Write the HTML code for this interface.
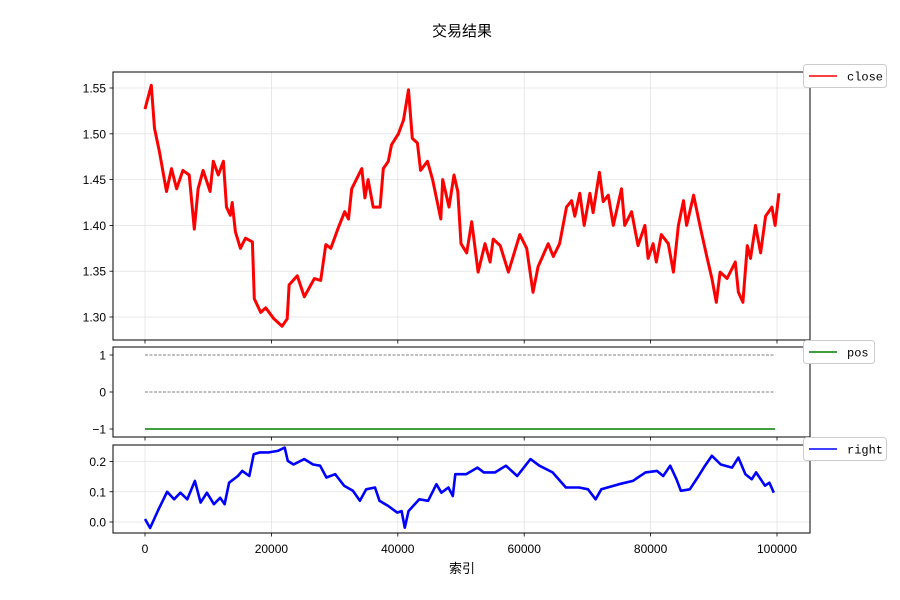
<!DOCTYPE html>
<html><head><meta charset="utf-8"><style>
body{margin:0;background:#fff}
svg{display:block;font-family:"Liberation Sans","Noto Sans CJK SC",sans-serif}
</style></head><body>
<svg id="fig" width="900" height="600" viewBox="0 0 900 600">
<rect width="900" height="600" fill="#fff"/>
<text x="462" y="36" font-size="15" text-anchor="middle">交易结果</text>
<text x="462" y="573" font-size="13" text-anchor="middle">索引</text>
</svg>
<script>
// x positions in thousands of index
const closeIdx=[0,1,1.5,2.3,3.4,4.2,5,6,7,7.8,8.4,9.2,10.3,10.8,11.6,12.4,12.9,13.5,13.8,14.3,15.1,15.9,17,17.3,18.3,19.1,20.4,21.7,22.5,22.8,24.1,25.2,26.8,27.8,28.6,29.4,30.5,31.6,32.2,32.7,34.3,34.8,35.3,36.1,37.2,37.7,38.5,39,40.1,40.9,41.7,42.3,43.1,43.6,44.7,45.5,46.8,47.1,48.1,48.9,49.5,50,50.9,51.7,52.7,53.8,54.6,55.1,56.2,57.5,59.3,60.4,61.4,62.2,63.8,64.6,65.6,66.7,67.5,68,68.8,69.5,70.4,70.9,71.9,72.5,73.3,74.1,75.4,75.9,77,78,79.1,79.6,80.4,80.9,81.7,82.8,83.6,84.4,85.2,85.7,86.8,87.8,88.9,89.7,90.4,91,92.1,93.4,93.9,94.6,95.3,95.8,96.6,97.4,98.2,99.2,99.7,100.3];
const closeVals=[1.527,1.553,1.506,1.48,1.437,1.462,1.44,1.46,1.455,1.396,1.44,1.46,1.437,1.47,1.455,1.47,1.42,1.411,1.425,1.393,1.375,1.386,1.382,1.32,1.305,1.31,1.298,1.29,1.298,1.335,1.345,1.322,1.342,1.34,1.379,1.375,1.396,1.415,1.407,1.44,1.462,1.43,1.45,1.42,1.42,1.462,1.47,1.488,1.50,1.515,1.548,1.495,1.49,1.46,1.47,1.45,1.407,1.45,1.42,1.455,1.437,1.38,1.37,1.404,1.349,1.38,1.36,1.385,1.378,1.349,1.39,1.375,1.327,1.355,1.38,1.366,1.38,1.42,1.427,1.41,1.435,1.40,1.435,1.414,1.458,1.426,1.433,1.40,1.44,1.40,1.415,1.378,1.40,1.364,1.38,1.36,1.39,1.38,1.349,1.40,1.427,1.40,1.433,1.40,1.366,1.342,1.316,1.349,1.342,1.36,1.327,1.316,1.378,1.364,1.40,1.37,1.41,1.42,1.40,1.435];
const posIdx=[0,99.7];
const posVals=[-1,-1];
const rightIdx=[0,0.8,2.1,3.5,4.6,5.6,6.7,7.9,8.8,9.8,10.9,11.9,12.6,13.3,14.7,15.4,16.5,17.2,18.2,19.6,21,22.1,22.6,23.5,25.2,26.6,27.7,28.7,30.1,31.5,32.9,34,35,36.4,37.1,38.5,39.9,40.6,41.1,41.7,43.4,44.8,46.1,46.9,48,48.7,49.1,50.8,52.6,53.6,55.4,57.1,58.9,61,62.4,64.5,66.6,68.7,70.1,71.3,72.2,75,77.2,79.2,81,82,83.1,84.1,84.8,86.2,87.6,88.6,89.7,91.1,92.9,93.9,95,96,96.7,98.1,98.8,99.5];
const rightVals=[0.01,-0.02,0.04,0.10,0.075,0.097,0.075,0.136,0.064,0.097,0.059,0.08,0.059,0.13,0.152,0.169,0.152,0.224,0.23,0.23,0.235,0.246,0.202,0.19,0.208,0.19,0.186,0.147,0.158,0.12,0.103,0.07,0.108,0.114,0.07,0.053,0.031,0.036,-0.019,0.036,0.075,0.07,0.125,0.097,0.114,0.086,0.158,0.158,0.18,0.164,0.164,0.186,0.152,0.208,0.186,0.164,0.114,0.114,0.108,0.075,0.108,0.125,0.136,0.164,0.169,0.152,0.186,0.141,0.103,0.108,0.152,0.186,0.219,0.19,0.18,0.213,0.158,0.141,0.164,0.12,0.13,0.097];
const xTicks=[0,20,40,60,80,100];
const xTickLabels=['0','20000','40000','60000','80000','100000'];
const closeTicks=[1.30,1.35,1.40,1.45,1.50,1.55];
const posTicks=[-1,0,1];
const rightTicks=[0.0,0.1,0.2];

const NS='http://www.w3.org/2000/svg';
const svg=document.getElementById('fig');
function mk(tag,attrs,parent){const e=document.createElementNS(NS,tag);for(const k in attrs)e.setAttribute(k,attrs[k]);(parent||svg).appendChild(e);return e;}
const X0=113,X1=810;
function xs(k){return 145+(k/100)*632;}

function panel(name,top,bot,yv0,yp0,yv1,yp1,ticks,fmt,grid){
  const ys=v=>yp0+(v-yv0)*(yp1-yp0)/(yv1-yv0);
  const g=mk('g',{});
  
  
  if(grid){
    xTicks.forEach(t=>{const l=mk('line',{x1:xs(t),x2:xs(t),y1:top,y2:bot,stroke:'#e3e3e3','stroke-width':0.8},g);});
    ticks.forEach(t=>{const l=mk('line',{x1:X0,x2:X1,y1:ys(t),y2:ys(t),stroke:'#e3e3e3','stroke-width':0.8},g);});
  }
  ticks.forEach(t=>{
    mk('line',{x1:X0-3.5,x2:X0,y1:ys(t),y2:ys(t),stroke:'#000','stroke-width':0.8},g);
    const tx=mk('text',{x:X0-7,y:ys(t)+4.5,'font-size':12,'text-anchor':'end'},g);
    tx.textContent=fmt(t);
    
    
  });
  xTicks.forEach(t=>{mk('line',{x1:xs(t),x2:xs(t),y1:bot,y2:bot+3.5,stroke:'#000','stroke-width':0.8},g);});
  return {g,ys};
}
function line(g,ys,idx,vals,color,name,w){
  const d=idx.map((k,i)=>(i?'L':'M')+xs(k).toFixed(1)+' '+ys(vals[i]).toFixed(1)).join(' ');
  const p=mk('path',{d,fill:'none',stroke:color,'stroke-width':w||1.6,'stroke-linejoin':'round'},g);
  
  
}
function frame(top,bot){mk('rect',{x:X0,y:top,width:X1-X0,height:bot-top,fill:'none',stroke:'#000','stroke-width':1});}
function legend(y,w,color,label,name){
  const g=mk('g',{});
  
  
  mk('rect',{x:803.5,y:y,width:w,height:23,rx:3,fill:'#fff',stroke:'#ccc','stroke-width':1},g);
  mk('line',{x1:809,x2:837,y1:y+11.5,y2:y+11.5,stroke:color,'stroke-width':1.6},g);
  const t=mk('text',{x:847,y:y+16,'font-size':12,'font-family':'"Liberation Mono",monospace'},g);
  t.textContent=label;
}

// close panel
let p=panel('close',72,340,1.30,317,1.55,88,closeTicks,v=>v.toFixed(2),true);
line(p.g,p.ys,closeIdx,closeVals,'#ff0000','close-line',3);
frame(72,340);
// pos panel
p=panel('pos',347,437,-1,429,1,355,posTicks,v=>v<0?'\u2212'+Math.abs(v):String(v),false);
[1,0].forEach(v=>{const l=mk('line',{x1:xs(0),x2:xs(99.7),y1:p.ys(v),y2:p.ys(v),stroke:'#000','stroke-width':0.6,'stroke-dasharray':'3,1.5'},p.g);});
line(p.g,p.ys,posIdx,posVals,'#008000','pos-line',1.6);
frame(347,437);
// right panel
p=panel('right',445,533,0,522,0.2,461.5,rightTicks,v=>v.toFixed(1),true);
line(p.g,p.ys,rightIdx,rightVals,'#0000ff','right-line',2.6);
frame(445,533);
xTicks.forEach((t,i)=>{const tx=mk('text',{x:xs(t),y:553,'font-size':12,'text-anchor':'middle'});tx.textContent=xTickLabels[i];});

legend(64.5,83,'#ff0000','close','legend-close');
legend(340.5,71,'#008000','pos','legend-pos');
legend(437.5,83,'#0000ff','right','legend-right');
</script>
</body></html>
